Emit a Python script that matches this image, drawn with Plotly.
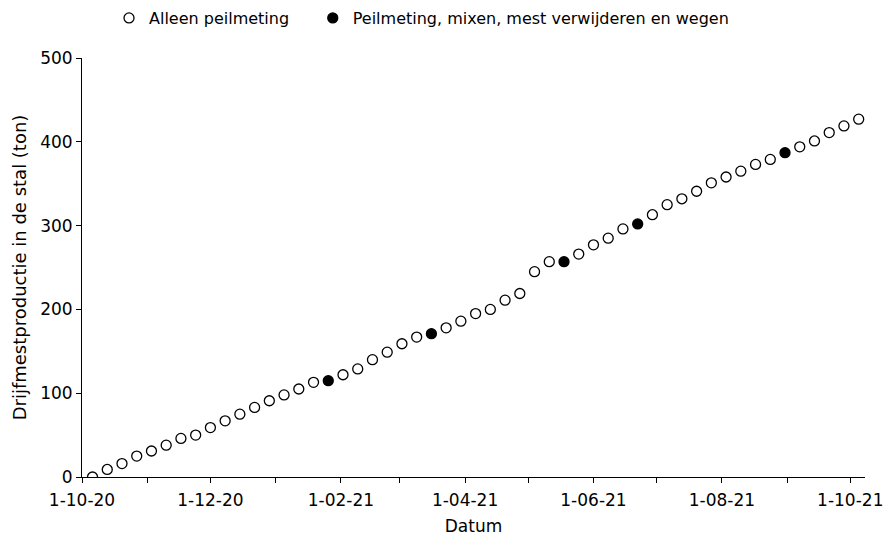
import plotly.graph_objects as go

# Weekly measurement dates and slurry production in the barn (ton)
dates_peil = [
    "2020-10-06", "2020-10-13", "2020-10-20", "2020-10-27", "2020-11-03",
    "2020-11-10", "2020-11-17", "2020-11-24", "2020-12-01", "2020-12-08",
    "2020-12-15", "2020-12-22", "2020-12-29", "2021-01-05", "2021-01-12",
    "2021-01-19", "2021-02-02", "2021-02-09", "2021-02-16", "2021-02-23",
    "2021-03-02", "2021-03-09", "2021-03-23", "2021-03-30", "2021-04-06",
    "2021-04-13", "2021-04-20", "2021-04-27", "2021-05-04", "2021-05-11",
    "2021-05-25", "2021-06-01", "2021-06-08", "2021-06-15", "2021-06-29",
    "2021-07-06", "2021-07-13", "2021-07-20", "2021-07-27", "2021-08-03",
    "2021-08-10", "2021-08-17", "2021-08-24", "2021-09-07", "2021-09-14",
    "2021-09-21", "2021-09-28", "2021-10-05",
]
ton_peil = [
    0, 9, 16, 25, 31,
    38, 46, 50, 59, 67,
    75, 83, 91, 98, 105,
    113, 122, 129, 140, 149,
    159, 167, 178, 186, 195,
    200, 211, 219, 245, 257,
    266, 277, 285, 296, 313,
    325, 332, 341, 351, 358,
    365, 373, 379, 394, 401,
    411, 419, 427,
]

dates_mix = ["2021-01-26", "2021-03-16", "2021-05-18", "2021-06-22", "2021-08-31"]
ton_mix = [115, 171, 257, 302, 387]

FONT = "Verdana, DejaVu Sans, sans-serif"

fig = go.Figure()
fig.add_trace(go.Scatter(
    x=dates_peil, y=ton_peil, mode="markers", name="Alleen peilmeting",
    legend="legend",
    marker=dict(symbol="circle", size=10, color="white",
                line=dict(color="black", width=1.3)),
))
fig.add_trace(go.Scatter(
    x=dates_mix, y=ton_mix, mode="markers",
    name="Peilmeting, mixen, mest verwijderen en wegen",
    legend="legend2",
    marker=dict(symbol="circle", size=10, color="black",
                line=dict(color="black", width=1.3)),
))

legend_style = dict(orientation="h", xanchor="left", y=1.0955,
                    yanchor="middle", font=dict(size=16), itemwidth=30,
                    bgcolor="rgba(0,0,0,0)")

fig.update_layout(
    width=885, height=536,
    margin=dict(l=82, r=20, t=58, b=59, autoexpand=False),
    paper_bgcolor="white", plot_bgcolor="white",
    font=dict(family=FONT, size=16, color="black"),
    showlegend=True,
    legend=dict(x=0.0345, **legend_style),
    legend2=dict(x=0.2947, **legend_style),
    xaxis=dict(
        type="date", range=["2020-10-01", "2021-10-08"],
        tick0="2020-10-01", dtick="M2", tickformat="%-d-%m-%y",
        ticks="outside", ticklen=5, tickwidth=1, tickcolor="black",
        minor=dict(dtick="M1", ticks="outside", ticklen=5, tickwidth=1,
                   tickcolor="black", showgrid=False),
        showline=True, linecolor="black", linewidth=1,
        showgrid=False, zeroline=False, automargin=False,
        ticklabelstandoff=3,
        title=dict(text="Datum", standoff=11, font=dict(size=17)),
        tickfont=dict(size=17),
    ),
    yaxis=dict(
        range=[0, 500], dtick=100, tick0=0,
        ticks="outside", ticklen=5, tickwidth=1, tickcolor="black",
        showline=True, linecolor="black", linewidth=1,
        showgrid=False, zeroline=False, automargin=False,
        title=dict(text="Drijfmestproductie in de stal (ton)", standoff=8,
                   font=dict(size=18)),
        tickfont=dict(size=17),
    ),
)

fig.write_html("out.html")
